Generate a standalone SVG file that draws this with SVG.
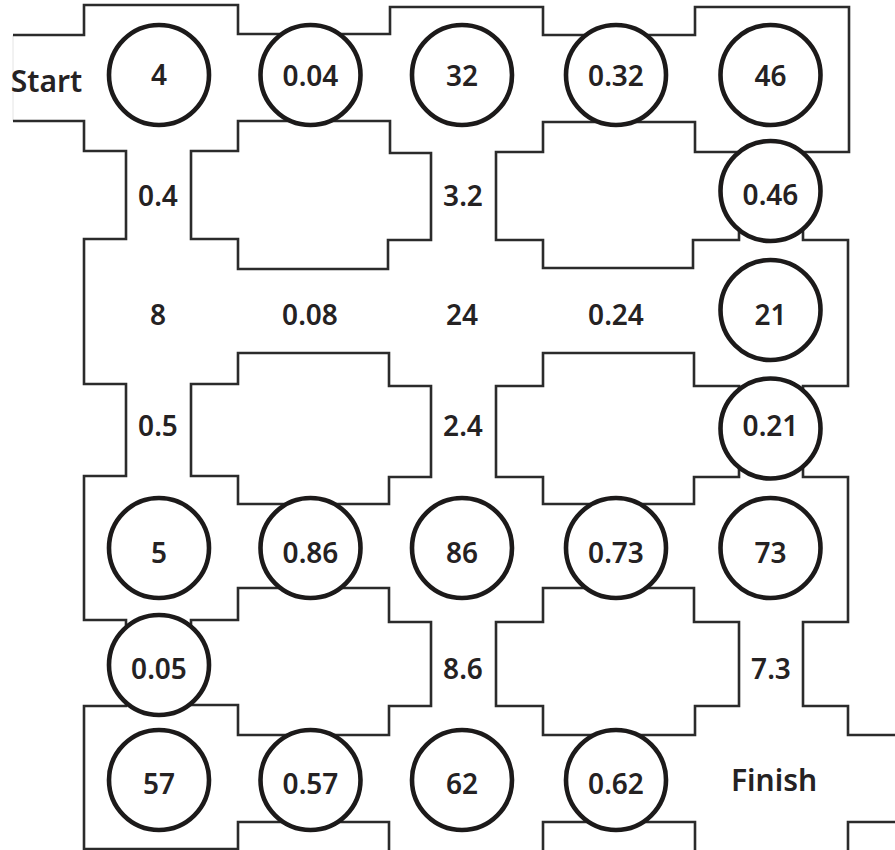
<svg xmlns="http://www.w3.org/2000/svg" width="895" height="850" viewBox="0 0 895 850">
<style>
.wall{fill:none;stroke:#2b2b2b;stroke-width:2.6;stroke-linejoin:miter}
.faint{fill:none;stroke:#e4e4e4;stroke-width:1}
.c{fill:#fff;stroke:#1c1a1a;stroke-width:4.6}
.t{font-family:"Noto Sans","DejaVu Sans",sans-serif;font-size:28px;font-weight:600;fill:#252223;text-anchor:middle}
.big{font-size:30px}
</style>
<rect width="895" height="850" fill="#fff"/>
<g id="walls">
<path class="faint" d="M13,35 V121"/>
<path class="wall" d="M13,35 H84 V5 H238 V34 H390 V7 H543 V35 H695 V7 H849 V152 H803 V240 H848 V386 H803 V477 H848 V622 H803 V706 H848 V735 H895"/>
<path class="wall" d="M13,121 H84 V151 H126 V239 H84 V384 H126 V476 H84 V620 H126 V706 H84 V849 H238 V822 H389 V850"/>
<path class="wall" d="M543,850 V822 H695 V850"/>
<path class="wall" d="M848,850 V822 H895"/>
<path class="wall" d="M238,121 H390 V153 H431 V240 H388 V269 H238 V239 H191 V151 H238 Z"/>
<path class="wall" d="M238,353 H389 V386 H431 V477 H389 V504 H238 V476 H191 V384 H238 Z"/>
<path class="wall" d="M543,122 H695 V152 H739 V240 H693 V268 H543 V240 H496 V152 H543 Z"/>
<path class="wall" d="M543,353 H694 V386 H739 V477 H694 V504 H543 V477 H496 V386 H543 Z"/>
<path class="wall" d="M238,588 H389 V622 H431 V706 H389 V735 H238 V705 H191 V620 H238 Z"/>
<path class="wall" d="M543,588 H694 V622 H739 V706 H695 V735 H543 V706 H496 V622 H543 Z"/>
</g>
<g id="start"><text class="t big" x="46.5" y="92">Start</text></g>
<g id="finish"><text class="t big" x="774" y="791">Finish</text></g>
<g id="n-4"><circle class="c" cx="159" cy="75" r="50"/><text class="t" x="159" y="85">4</text></g>
<g id="n-0-04"><circle class="c" cx="310.5" cy="75" r="50"/><text class="t" x="310.5" y="86">0.04</text></g>
<g id="n-32"><circle class="c" cx="462" cy="75" r="50"/><text class="t" x="462" y="86">32</text></g>
<g id="n-0-32"><circle class="c" cx="616" cy="75" r="50"/><text class="t" x="616" y="86">0.32</text></g>
<g id="n-46"><circle class="c" cx="770.5" cy="75" r="50"/><text class="t" x="770.5" y="86">46</text></g>
<g id="n-0-4"><text class="t" x="158" y="206">0.4</text></g>
<g id="n-3-2"><text class="t" x="463" y="206">3.2</text></g>
<g id="n-0-46"><circle class="c" cx="770.5" cy="191" r="50"/><text class="t" x="770.5" y="205">0.46</text></g>
<g id="n-8"><text class="t" x="158" y="325">8</text></g>
<g id="n-0-08"><text class="t" x="310" y="325">0.08</text></g>
<g id="n-24"><text class="t" x="462" y="325">24</text></g>
<g id="n-0-24"><text class="t" x="616" y="325">0.24</text></g>
<g id="n-21"><circle class="c" cx="770.5" cy="310" r="50"/><text class="t" x="770.5" y="325">21</text></g>
<g id="n-0-5"><text class="t" x="158" y="436">0.5</text></g>
<g id="n-2-4"><text class="t" x="463" y="436">2.4</text></g>
<g id="n-0-21"><circle class="c" cx="770.5" cy="428.5" r="50"/><text class="t" x="770.5" y="436">0.21</text></g>
<g id="n-5"><circle class="c" cx="159" cy="548" r="50"/><text class="t" x="159" y="563">5</text></g>
<g id="n-0-86"><circle class="c" cx="310.5" cy="548" r="50"/><text class="t" x="310.5" y="563">0.86</text></g>
<g id="n-86"><circle class="c" cx="462" cy="548" r="50"/><text class="t" x="462" y="563">86</text></g>
<g id="n-0-73"><circle class="c" cx="616" cy="548" r="50"/><text class="t" x="616" y="563">0.73</text></g>
<g id="n-73"><circle class="c" cx="770.5" cy="548" r="50"/><text class="t" x="770.5" y="563">73</text></g>
<g id="n-0-05"><circle class="c" cx="159" cy="665" r="50"/><text class="t" x="159" y="679">0.05</text></g>
<g id="n-8-6"><text class="t" x="463" y="679">8.6</text></g>
<g id="n-7-3"><text class="t" x="771" y="679">7.3</text></g>
<g id="n-57"><circle class="c" cx="159" cy="780" r="50"/><text class="t" x="159" y="794">57</text></g>
<g id="n-0-57"><circle class="c" cx="310.5" cy="780" r="50"/><text class="t" x="310.5" y="794">0.57</text></g>
<g id="n-62"><circle class="c" cx="462" cy="780" r="50"/><text class="t" x="462" y="794">62</text></g>
<g id="n-0-62"><circle class="c" cx="616" cy="780" r="50"/><text class="t" x="616" y="794">0.62</text></g>
</svg>
